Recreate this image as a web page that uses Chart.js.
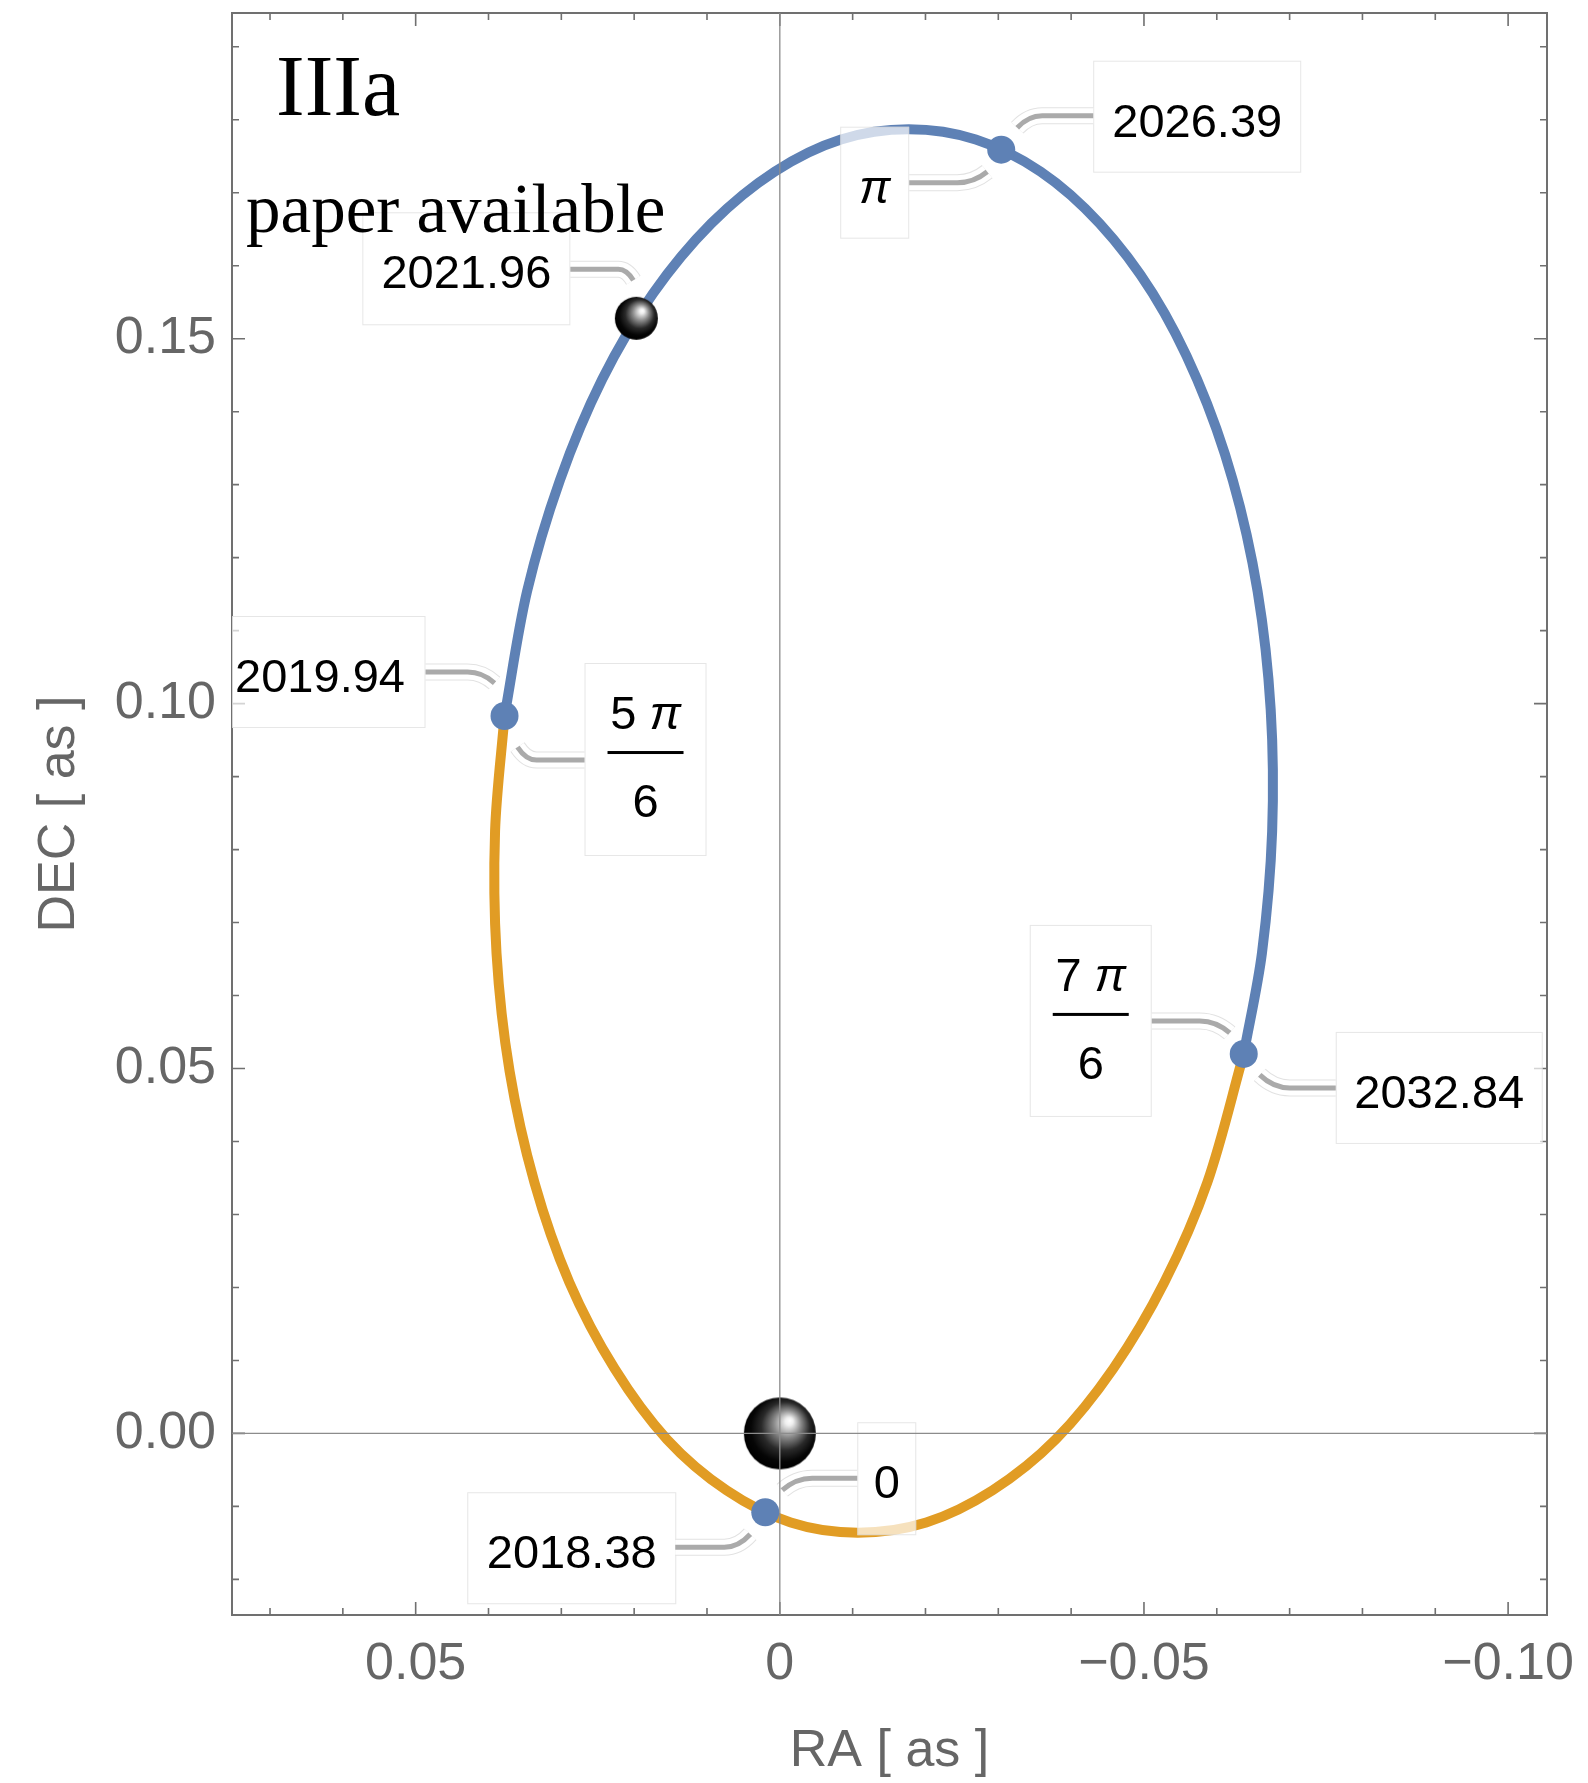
<!DOCTYPE html>
<html>
<head>
<meta charset="utf-8">
<script src="https://cdn.jsdelivr.net/npm/chart.js@4.4.1/dist/chart.umd.min.js"></script>
<style>
  html, body { margin: 0; padding: 0; background: #fff; }
  #orbit { display: block; }
</style>
</head>
<body>
<canvas id="orbit" width="1588" height="1783"></canvas>
<script>
// ─── DATA ─────────────────────────────────────────────────────────────────
// orbit, upper part (blue): from the 7π/6 point over the top to the 5π/6 point
const blueRA  = [-0.0637, -0.0662, -0.0676, -0.0674, -0.0656, -0.0622, -0.0573, -0.0512, -0.0439, -0.0358,
                 -0.0269, -0.0177, -0.0084, 0.0007, 0.0094, 0.0174, 0.0244, 0.0302, 0.0347, 0.0378];
const blueDEC = [0.0520, 0.0658, 0.0825, 0.0992, 0.1154, 0.1306, 0.1444, 0.1562, 0.1658, 0.1729,
                 0.1773, 0.1787, 0.1773, 0.1729, 0.1658, 0.1562, 0.1444, 0.1306, 0.1154, 0.0983];
// orbit, lower part (orange): from the 5π/6 point under the bottom to the 7π/6 point
const orangeRA  = [0.0378, 0.0391, 0.0389, 0.0371, 0.0337, 0.0289, 0.0227, 0.0155, 0.0073, -0.0015,
                   -0.0107, -0.0201, -0.0292, -0.0379, -0.0458, -0.0528, -0.0587, -0.0637];
const orangeDEC = [0.0983, 0.0825, 0.0658, 0.0496, 0.0344, 0.0207, 0.0089, -0.0008, -0.0078, -0.0122,
                   -0.0136, -0.0122, -0.0078, -0.0008, 0.0089, 0.0207, 0.0344, 0.0520];

// marked epochs
const epochYears = ['2018.38', '2019.94', '2026.39', '2032.84'];
const epochPhase = ['0', '5 π/6', 'π', '7 π/6'];
const epochRA    = [0.0020, 0.0378, -0.0304, -0.0637];
const epochDEC   = [-0.0108, 0.0983, 0.1759, 0.0520];

// central mass and position when the paper became available
const bodyRA  = [0, 0.0197];
const bodyDEC = [0, 0.1528];
const paperYear = '2021.96';

const xTickValues = [0.05, 0, -0.05, -0.10];
const xTickLabels = ['0.05', '0', '\u22120.05', '\u22120.10'];
const yTickValues = [0, 0.05, 0.10, 0.15];
const yTickLabels = ['0.00', '0.05', '0.10', '0.15'];
const xMinorTicks = [0.07, 0.06, 0.04, 0.03, 0.02, 0.01, -0.01, -0.02, -0.03, -0.04, -0.06, -0.07, -0.08, -0.09];
const yMinorTicks = [-0.02, -0.01, 0.01, 0.02, 0.03, 0.04, 0.06, 0.07, 0.08, 0.09,
                     0.11, 0.12, 0.13, 0.14, 0.16, 0.17, 0.18, 0.19];

const X_MIN = -0.10534, X_MAX = 0.07522;
const Y_MIN = -0.02488, Y_MAX = 0.19463;

// ─── STYLE ────────────────────────────────────────────────────────────────
const BLUE = '#5E81B5';
const ORANGE = '#E19C24';
const FRAME = '#707070';
const GREY = '#666666';
const SANS = '"Liberation Sans", Arial, Helvetica, sans-serif';
const SERIF = '"Liberation Serif", "Times New Roman", serif';
const LABEL_FONT = '47px ' + SANS;

// label boxes [dx, dy, w, h] and callouts [startX, startY, bendX, endX, endY], px relative to the point
const epochLayout = [
  { year:  { box: [-298, -20, 209, 112], line: [-90, 35, -41, -15, 22] },
    phase: { box: [92, -90, 59, 113],    line: [92, -34, 47, 17, -22] } },
  { year:  { box: [-290, -100, 211, 112], line: [-79, -44, -37, -10, -33] },
    phase: { box: [80, -53, 122, 193],    line: [80, 44, 32, 13, 31] } },
  { year:  { box: [92, -89, 208, 112],  line: [92, -34, 41, 16, -22] },
    phase: { box: [-161, -23, 69, 112], line: [-92, 33, -44, -14, 22] } },
  { year:  { box: [92, -22, 207, 112],   line: [92, 34, 46, 16, 21] },
    phase: { box: [-214, -129, 122, 192], line: [-92, -33, -44, -14, -21] } }
];
const paperLayout = { box: [-274, -106, 208, 113], line: [-66, -49, -18, -3, -38] };

function sphereImage(r) {
  const c = document.createElement('canvas');
  c.width = c.height = Math.ceil(2 * r + 2);
  const g = c.getContext('2d');
  const m = c.width / 2;
  const grad = g.createRadialGradient(m + 0.28 * r, m - 0.36 * r, 0, m + 0.08 * r, m - 0.1 * r, 1.08 * r);
  grad.addColorStop(0, '#ffffff');
  grad.addColorStop(0.1, '#f0f0f0');
  grad.addColorStop(0.35, '#8a8a8a');
  grad.addColorStop(0.62, '#2a2a2a');
  grad.addColorStop(0.85, '#060606');
  grad.addColorStop(1, '#000000');
  g.fillStyle = grad;
  g.beginPath();
  g.arc(m, m, r, 0, Math.PI * 2);
  g.fill();
  return c;
}

function toPoints(xs, ys) { return xs.map((x, i) => ({ x, y: ys[i] })); }

// ─── DRAW HELPERS ─────────────────────────────────────────────────────────
function drawBox(ctx, p, box) {
  const [dx, dy, w, h] = box;
  ctx.fillStyle = 'rgba(255,255,255,0.7)';
  ctx.fillRect(p.x + dx, p.y + dy, w, h);
  ctx.strokeStyle = 'rgba(200,200,200,0.45)';
  ctx.lineWidth = 1;
  ctx.strokeRect(p.x + dx + 0.5, p.y + dy + 0.5, w - 1, h - 1);
}

function drawCallout(ctx, p, line) {
  const [sx, sy, bx, ex, ey] = line;
  const cx = bx + (ex - bx) * 0.55;
  const path = () => {
    ctx.beginPath();
    ctx.moveTo(p.x + sx, p.y + sy);
    ctx.lineTo(p.x + bx, p.y + sy);
    ctx.quadraticCurveTo(p.x + cx, p.y + sy, p.x + ex, p.y + ey);
  };
  ctx.lineCap = 'butt';
  path(); ctx.strokeStyle = '#e2e2e2'; ctx.lineWidth = 17; ctx.stroke();
  path(); ctx.strokeStyle = '#ffffff'; ctx.lineWidth = 15; ctx.stroke();
  path(); ctx.strokeStyle = '#aaaaaa'; ctx.lineWidth = 5; ctx.stroke();
}

// digits upright, π italic
function drawMixed(ctx, s, cx, base) {
  const parts = [...s].map(ch => ({ ch, font: ch === 'π' ? 'italic ' + LABEL_FONT : LABEL_FONT }));
  let total = 0;
  parts.forEach(pt => { ctx.font = pt.font; pt.w = ctx.measureText(pt.ch).width; total += pt.w; });
  let x = cx - total / 2;
  ctx.textAlign = 'left';
  ctx.textBaseline = 'alphabetic';
  parts.forEach(pt => { ctx.font = pt.font; ctx.fillText(pt.ch, x, base); x += pt.w; });
}

function drawBoxText(ctx, p, box, label) {
  const [dx, dy, w] = box;
  const cx = p.x + dx + w / 2, top = p.y + dy;
  ctx.fillStyle = '#000';
  if (label.includes('/')) {
    const [num, den] = label.split('/');
    drawMixed(ctx, num, cx, top + 66);
    ctx.fillRect(cx - 38, top + 88, 76, 3);
    drawMixed(ctx, den, cx, top + 154);
  } else {
    drawMixed(ctx, label, cx, top + 76);
  }
}

// ─── PLUGINS ──────────────────────────────────────────────────────────────
const framePlugin = {
  id: 'frame',
  beforeDatasetsDraw(chart) {
    const { ctx, chartArea: a, scales: { x, y } } = chart;
    ctx.save();
    ctx.strokeStyle = FRAME;
    ctx.lineWidth = 2;
    ctx.strokeRect(a.left, a.top, a.right - a.left, a.bottom - a.top);
    ctx.lineWidth = 1.6;
    ctx.beginPath();
    const xt = (v, len) => {
      const px = x.getPixelForValue(v);
      ctx.moveTo(px, a.bottom); ctx.lineTo(px, a.bottom - len);
      ctx.moveTo(px, a.top); ctx.lineTo(px, a.top + len);
    };
    const yt = (v, len) => {
      const py = y.getPixelForValue(v);
      ctx.moveTo(a.left, py); ctx.lineTo(a.left + len, py);
      ctx.moveTo(a.right, py); ctx.lineTo(a.right - len, py);
    };
    xTickValues.forEach(v => xt(v, 13));
    xMinorTicks.forEach(v => xt(v, 7));
    yTickValues.forEach(v => yt(v, 13));
    yMinorTicks.forEach(v => yt(v, 7));
    ctx.stroke();
    ctx.restore();
  }
};

const labelPlugin = {
  id: 'labels',
  afterDatasetsDraw(chart) {
    const { ctx, chartArea: a, scales: { x, y } } = chart;
    const at = (ra, dec) => ({ x: x.getPixelForValue(ra), y: y.getPixelForValue(dec) });
    ctx.save();
    ctx.beginPath();
    ctx.rect(a.left, a.top, a.right - a.left, a.bottom - a.top);
    ctx.clip();

    const items = [];
    epochRA.forEach((ra, i) => {
      const p = at(ra, epochDEC[i]);
      items.push({ p, lay: epochLayout[i].year, text: epochYears[i] });
      items.push({ p, lay: epochLayout[i].phase, text: epochPhase[i] });
    });
    items.push({ p: at(bodyRA[1], bodyDEC[1]), lay: paperLayout, text: paperYear });

    items.forEach(it => drawBox(ctx, it.p, it.lay.box));
    items.forEach(it => drawCallout(ctx, it.p, it.lay.line));
    items.forEach(it => drawBoxText(ctx, it.p, it.lay.box, it.text));

    // axes through the origin, drawn in front
    ctx.strokeStyle = '#8c8c8c';
    ctx.lineWidth = 1.3;
    ctx.beginPath();
    const x0 = x.getPixelForValue(0), y0 = y.getPixelForValue(0);
    ctx.moveTo(x0, a.top); ctx.lineTo(x0, a.bottom);
    ctx.moveTo(a.left, y0); ctx.lineTo(a.right, y0);
    ctx.stroke();

    ctx.fillStyle = '#000';
    ctx.textAlign = 'left';
    ctx.textBaseline = 'alphabetic';
    ctx.font = '86px ' + SERIF;
    ctx.fillText('IIIa', a.left + 44, a.top + 102);
    ctx.font = '69px ' + SERIF;
    ctx.fillText('paper available', a.left + 14, a.top + 219);
    ctx.restore();
  }
};

// ─── CHART ────────────────────────────────────────────────────────────────
new Chart(document.getElementById('orbit'), {
  type: 'scatter',
  data: {
    datasets: [
      { label: 'orbit upper', data: toPoints(blueRA, blueDEC), showLine: true, borderColor: BLUE,
        borderWidth: 10, pointRadius: 0, tension: 0.33, order: 4 },
      { label: 'orbit lower', data: toPoints(orangeRA, orangeDEC), showLine: true, borderColor: ORANGE,
        borderWidth: 10, pointRadius: 0, tension: 0.33, order: 3 },
      { label: 'epochs', data: toPoints(epochRA, epochDEC), pointRadius: 14, backgroundColor: BLUE,
        borderWidth: 0, order: 2 },
      { label: 'bodies', data: toPoints(bodyRA, bodyDEC), pointRadius: 20,
        pointStyle: [sphereImage(36), sphereImage(21.5)], order: 1 }
    ]
  },
  options: {
    responsive: false,
    devicePixelRatio: 1,
    animation: false,
    events: [],
    layout: { autoPadding: false, padding: { top: 13, right: 41, bottom: 0, left: 0 } },
    plugins: { legend: { display: false }, tooltip: { enabled: false } },
    scales: {
      x: {
        type: 'linear', reverse: true, min: X_MIN, max: X_MAX,
        grid: { display: false, drawTicks: false }, border: { display: false },
        afterBuildTicks: s => { s.ticks = xTickValues.map(v => ({ value: v })); },
        afterFit: s => { s.height = 168; s.paddingLeft = 0; s.paddingRight = 0; },
        ticks: { padding: 18, color: GREY, font: { family: SANS, size: 52 }, maxRotation: 0, autoSkip: false,
                 callback: (v, i) => xTickLabels[i] },
        title: { display: true, text: 'RA [ as ]', color: GREY, font: { family: SANS, size: 52 },
                 padding: { top: 0, bottom: 0 } }
      },
      y: {
        type: 'linear', min: Y_MIN, max: Y_MAX,
        grid: { display: false, drawTicks: false }, border: { display: false },
        afterBuildTicks: s => { s.ticks = yTickValues.map(v => ({ value: v })); },
        afterFit: s => { s.width = 232; s.paddingTop = 0; s.paddingBottom = 0; },
        ticks: { padding: 16, color: GREY, font: { family: SANS, size: 52 }, autoSkip: false,
                 callback: (v, i) => yTickLabels[i] },
        title: { display: true, text: 'DEC [ as ]', color: GREY, font: { family: SANS, size: 52 },
                 padding: { top: 28, bottom: 0 } }
      }
    }
  },
  plugins: [framePlugin, labelPlugin]
});
</script>
</body>
</html>
